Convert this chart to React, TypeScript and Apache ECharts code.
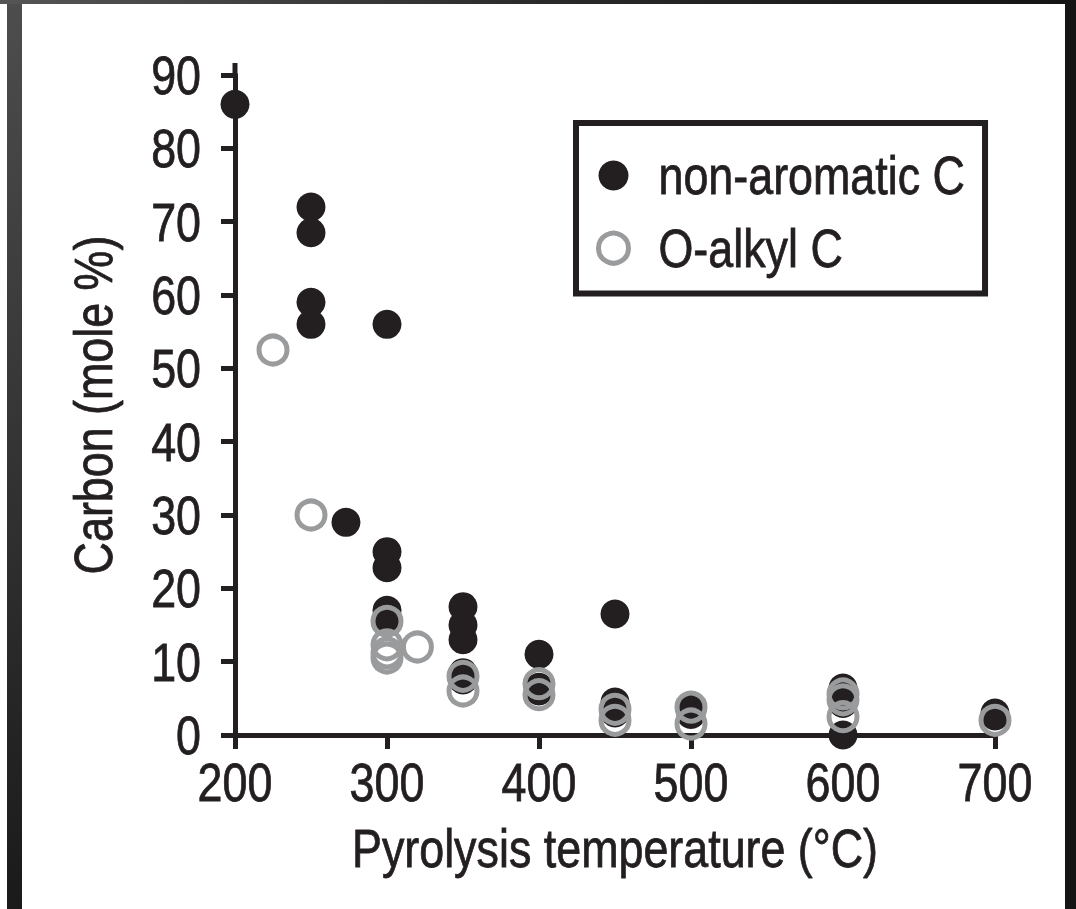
import React, { useEffect, useRef } from "react";
import * as echarts from "echarts";

const xTicks = [200, 300, 400, 500, 600, 700];
const yTicks = [0, 10, 20, 30, 40, 50, 60, 70, 80, 90];

const seriesNames = ["non-aromatic C", "O-alkyl C"];

// non-aromatic C (filled black circles): [temperature, mole %]
const nonAromatic: number[][] = [
  [200, 86],
  [250, 72], [250, 68.5], [250, 59], [250, 56],
  [300, 56],
  [273, 29],
  [300, 25], [300, 22.8], [300, 17], [300, 16],
  [350, 17.5], [350, 15], [350, 13], [350, 8.5], [350, 7.5],
  [400, 11], [400, 6.5], [400, 6],
  [450, 16.5], [450, 4.5], [450, 3],
  [500, 3.5], [500, 2.8],
  [600, 6.4], [600, 4.3], [600, 0],
  [700, 3], [700, 2.6],
];

// O-alkyl C (open grey circles)
const oAlkyl: number[][] = [
  [225, 52.5],
  [250, 30],
  [300, 15.5], [300, 12.3], [300, 11.2], [300, 10.5],
  [320, 12],
  [350, 8], [350, 6],
  [400, 7], [400, 5.5],
  [450, 3.5], [450, 2],
  [500, 3.8], [500, 1.5],
  [600, 5.6], [600, 4.8], [600, 2.5],
  [700, 2],
];

const FONT = "'Liberation Sans', Arial, Helvetica, sans-serif";
const INK = "#231f20";
const GREY = "#9a9b9d";
const SQUEEZE = 0.83;

const txt = {
  fontFamily: FONT,
  fontSize: 54,
  color: INK,
  textBorderColor: INK,
  textBorderWidth: 0.8,
};

export default function App() {
  const ref = useRef<HTMLDivElement>(null);

  useEffect(() => {
    if (!ref.current) return;
    const chart = echarts.init(ref.current, undefined, { renderer: "svg" });

    // condense the glyphs horizontally (the reference uses a condensed face)
    const condense = () => {
      const root = ref.current;
      if (!root) return;
      root.querySelectorAll("text").forEach((t: any) => {
        if (t.getAttribute("data-cond") === "1") return;
        const len = t.getComputedTextLength ? t.getComputedTextLength() : 0;
        if (len > 0) {
          t.setAttribute("textLength", String(len * SQUEEZE));
          t.setAttribute("lengthAdjust", "spacingAndGlyphs");
          t.setAttribute("data-cond", "1");
        }
      });
    };

    chart.on("finished", condense);

    chart.setOption({
      animation: false,
      backgroundColor: "transparent",
      grid: { left: 235, right: 81, top: 75, bottom: 174, containLabel: false },
      xAxis: {
        type: "value",
        min: 200,
        max: 700,
        interval: 100,
        name: "Pyrolysis temperature (°C)",
        nameLocation: "middle",
        nameGap: 86,
        nameTextStyle: txt,
        axisLine: { show: true, onZero: false, lineStyle: { color: INK, width: 5 } },
        axisTick: { show: true, inside: false, length: 14, lineStyle: { color: INK, width: 5 } },
        axisLabel: {
          margin: 20,
          ...txt,
          formatter: (v: number) => (xTicks.includes(v) ? String(v) : ""),
        },
        splitLine: { show: false },
      },
      yAxis: {
        type: "value",
        min: 0,
        max: 90,
        interval: 10,
        name: "Carbon (mole %)",
        nameLocation: "middle",
        nameGap: 115,
        nameTextStyle: txt,
        axisLine: { show: true, onZero: false, lineStyle: { color: INK, width: 5 } },
        axisTick: { show: true, inside: false, length: 14, lineStyle: { color: INK, width: 5 } },
        axisLabel: {
          margin: 34,
          ...txt,
          formatter: (v: number) => (yTicks.includes(v) ? String(v) : ""),
        },
        splitLine: { show: false },
      },
      legend: {
        show: true,
        orient: "vertical",
        left: 576,
        top: 123,
        padding: [25, -43, 18, 20],
        borderColor: INK,
        borderWidth: 6,
        itemWidth: 50,
        itemHeight: 30,
        itemGap: 18,
        textStyle: {
          ...txt,
          lineHeight: 54,
          padding: [0, 0, 0, 15],
        },
        data: [
          { name: seriesNames[0], icon: "circle", itemStyle: { color: INK, borderWidth: 0 } },
          {
            name: seriesNames[1],
            icon: "circle",
            itemStyle: { color: "transparent", borderColor: GREY, borderWidth: 5 },
          },
        ],
      },
      graphic: [
        {
          type: "line",
          shape: { x1: 235, y1: 63, x2: 235, y2: 76 },
          style: { stroke: INK, lineWidth: 5 },
          z: 10,
        },
      ],
      series: [
        {
          name: seriesNames[0],
          type: "scatter",
          data: nonAromatic,
          symbol: "circle",
          symbolSize: 29,
          itemStyle: { color: INK, opacity: 1 },
          z: 2,
        },
        {
          name: seriesNames[1],
          type: "scatter",
          data: oAlkyl,
          symbol: "circle",
          symbolSize: 28,
          itemStyle: { color: "transparent", borderColor: GREY, borderWidth: 5, opacity: 1 },
          z: 3,
        },
      ],
    });

    const t1 = setTimeout(condense, 30);
    const t2 = setTimeout(condense, 200);
    return () => {
      clearTimeout(t1);
      clearTimeout(t2);
      chart.dispose();
    };
  }, []);

  return (
    <div
      style={{
        position: "fixed",
        left: 0,
        top: 0,
        width: 1076,
        height: 909,
        background: "linear-gradient(to right, #555 0%, #2a2a2a 50%, #141414 100%)",
        overflow: "hidden",
      }}
    >
      <div
        style={{ position: "absolute", left: 0, top: 4, width: 7, height: 905, background: "#fff" }}
      />
      <div
        style={{
          position: "absolute",
          left: 7,
          top: 4,
          width: 15,
          height: 905,
          background: "linear-gradient(to bottom, #4d4d4d, #1a1a1a)",
        }}
      />
      <div
        style={{ position: "absolute", left: 22, top: 4, width: 1043, height: 905, background: "#fff" }}
      />
      <div ref={ref} style={{ position: "absolute", left: 0, top: 0, width: 1076, height: 909 }} />
    </div>
  );
}
